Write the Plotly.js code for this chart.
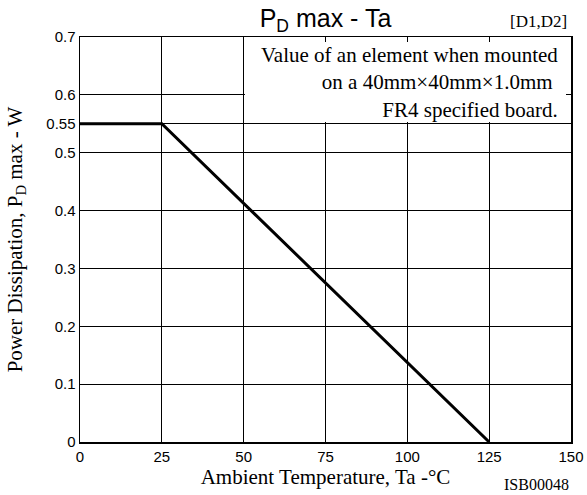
<!DOCTYPE html>
<html><head><meta charset="utf-8">
<script src="https://cdn.plot.ly/plotly-3.0.1.min.js"></script>
<style>html,body{margin:0;padding:0;background:#fff}</style>
</head><body>
<div id="chart" style="width:587px;height:495px"></div>
<script>
const temperature = [0, 25, 125];
const powerW = [0.55, 0.55, 0];
const xTicks = [0, 25, 50, 75, 100, 125, 150];
const yTicks = [0, 0.1, 0.2, 0.3, 0.4, 0.5, 0.55, 0.6, 0.7];
const yTickText = ['0', '0.1', '0.2', '0.3', '0.4', '0.5', '0.55', '0.6', '0.7'];
const noteLines = ['Value of an element when mounted', 'on a 40mm×40mm×1.0mm ', 'FR4 specified board.'];

const serif = 'Liberation Serif, Times New Roman, serif';
const sans = 'Liberation Sans, Arial, sans-serif';

const trace = {
  x: temperature, y: powerW, type: 'scatter', mode: 'lines',
  line: {color: '#000', width: 3}, hoverinfo: 'skip'
};

const layout = {
  width: 587, height: 495,
  margin: {l: 80, r: 16, t: 37, b: 53},
  paper_bgcolor: '#fff', plot_bgcolor: '#fff',
  showlegend: false,
  title: {text: 'P<sub>D</sub> max - Ta', font: {family: sans, size: 25, color: '#000'},
          x: 0.5545, xanchor: 'center', y: 0.945, yanchor: 'bottom'},
  xaxis: {
    range: [0, 150], tickvals: xTicks, ticktext: xTicks.map(String),
    showgrid: true, gridcolor: '#000', gridwidth: 1,
    showline: true, linecolor: '#000', linewidth: 1.5, mirror: 'ticks',
    ticks: 'inside', ticklen: 5, tickcolor: '#000',
    zeroline: false,
    tickfont: {family: sans, size: 15, color: '#000'},
    title: {text: 'Ambient Temperature, Ta -°C', font: {family: serif, size: 21, color: '#000'}, standoff: 6}
  },
  yaxis: {
    range: [0, 0.7], tickvals: yTicks, ticktext: yTickText,
    showgrid: true, gridcolor: '#000', gridwidth: 1,
    showline: true, linecolor: '#000', linewidth: 1.5, mirror: 'ticks',
    ticks: 'inside', ticklen: 5, tickcolor: '#000',
    zeroline: false,
    tickfont: {family: sans, size: 15, color: '#000'},
    title: {text: 'Power Dissipation, P<sub>D</sub> max - W', font: {family: serif, size: 21, color: '#000'}, standoff: 18}
  },
  shapes: [
    {type: 'rect', xref: 'x', yref: 'y', x0: 50.4, x1: 150, y0: 0.553, y1: 0.7,
     fillcolor: '#fff', line: {width: 0}, layer: 'between'}
  ],
  annotations: [
    {text: '[D1,D2]', xref: 'paper', yref: 'paper', x: 0.995, y: 1.01, xanchor: 'right', yanchor: 'bottom',
     showarrow: false, font: {family: serif, size: 17, color: '#000'}},
    {text: 'ISB00048', xref: 'paper', yref: 'paper', x: 1.0, y: -0.078, xanchor: 'right', yanchor: 'top',
     showarrow: false, font: {family: serif, size: 16, color: '#000'}},
    {text: noteLines.join('<br>'), xref: 'paper', yref: 'paper', x: 0.978, y: 0.99, xanchor: 'right', yanchor: 'top',
     align: 'right', showarrow: false, font: {family: serif, size: 21, color: '#000'}}
  ]
};

Plotly.newPlot('chart', [trace], layout, {displayModeBar: false, staticPlot: true});
</script>
</body></html>
